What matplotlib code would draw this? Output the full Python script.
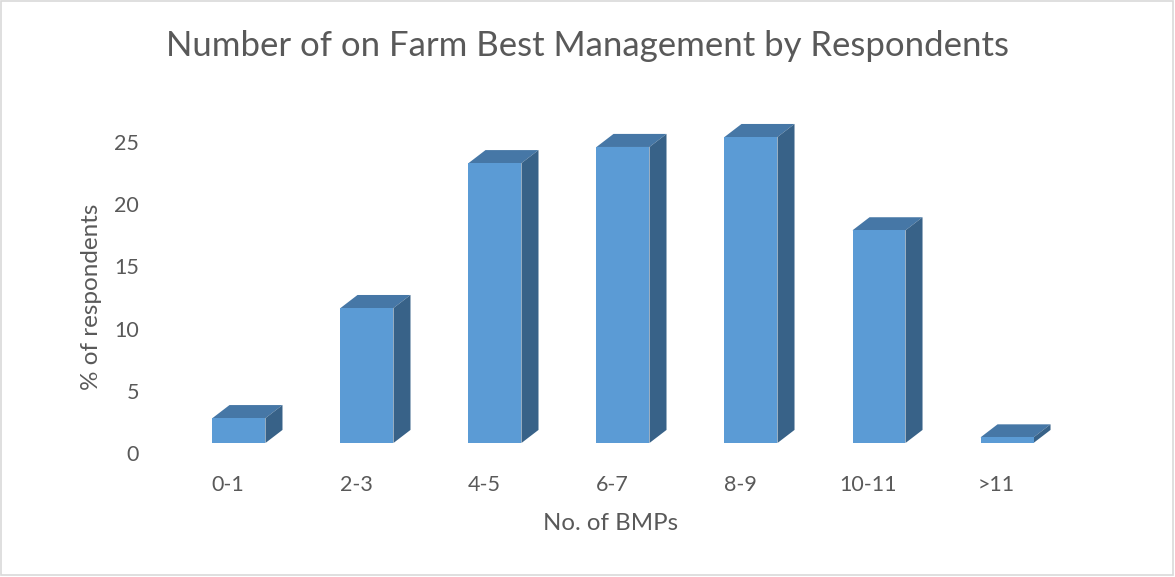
import numpy as np
import matplotlib.pyplot as plt
from matplotlib.patches import Rectangle

plt.rcParams['font.family'] = ['Lato', 'DejaVu Sans']

# === data ===
categories = ["0-1", "2-3", "4-5", "6-7", "8-9", "10-11", ">11"]
percent = [2.0, 10.85, 22.5, 23.8, 24.6, 17.1, 0.45]
yticks = [0, 5, 10, 15, 20, 25]

front_col = "#5B9BD5"
top_col = "#4677A6"
side_col = "#386288"
text_col = "#595959"

fig = plt.figure(figsize=(11.75, 5.77), dpi=100)
ax = fig.add_axes([0.1489, 0.2107, 0.7626, 0.582])

x = np.arange(len(categories))
width = 0.414
depth_x = 0.133   # oblique depth of the 3D columns (data units)
depth_y = 1.05

ax.bar(x, percent, width=width, color=front_col, zorder=3)
for xi, v in zip(x, percent):
    x0, x1 = xi - width / 2, xi + width / 2
    # top face
    ax.fill([x0, x1, x1 + depth_x, x0 + depth_x],
            [v, v, v + depth_y, v + depth_y],
            color=top_col, lw=0, zorder=2)
    # side face
    ax.fill([x1, x1 + depth_x, x1 + depth_x, x1],
            [0, depth_y, v + depth_y, v],
            color=side_col, lw=0, zorder=2)

ax.set_xlim(-0.5, len(categories) - 0.5)
ax.set_ylim(-1, 26)

# labels sit a little off the front plane, like the 3D axis
ax.set_xticks(x - 0.086, categories)
ax.set_yticks(np.array(yticks) - 0.8, [str(t) for t in yticks])
ax.tick_params(axis='both', length=0, labelsize=15.5, colors=text_col)
ax.tick_params(axis='y', pad=26)
ax.tick_params(axis='x', pad=14)
for s in ax.spines.values():
    s.set_visible(False)

fig.text(0.5, 1 - 46 / 577, "Number of on Farm Best Management by Respondents",
         ha='center', va='center', fontsize=25, color=text_col)
fig.text(611 / 1175, 1 - 523 / 577, "No. of BMPs", ha='center', va='center',
         fontsize=17.3, color=text_col)
fig.text(92 / 1175, 1 - 297 / 577, "% of respondents", ha='center',
         va='center', rotation=90, fontsize=17.5, color=text_col)

# chart area border
fig.patches.append(Rectangle((0.001, 0.004), 0.997, 0.994,
                             transform=fig.transFigure, fill=False,
                             edgecolor="#D9D9D9", lw=1.2))

fig.savefig("out.png", dpi=100)
